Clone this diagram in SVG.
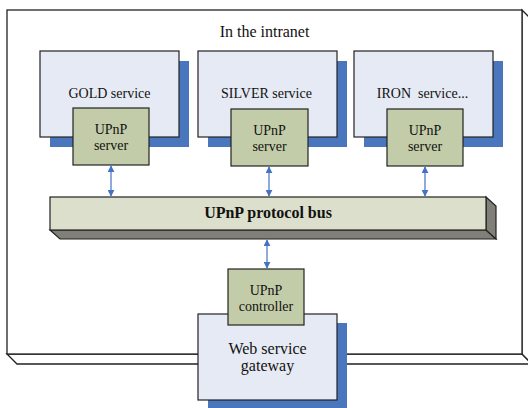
<svg xmlns="http://www.w3.org/2000/svg" width="528" height="408" viewBox="0 0 528 408" font-family="'Liberation Serif', 'DejaVu Serif', serif">
<defs>
<style>
.frame{fill:#fff;stroke:#222;stroke-width:1.3}
.shadow{fill:#4A76BE;stroke:none}
.svc{fill:#E6EAF4;stroke:#222;stroke-width:1.2}
.srv{fill:#C3CCA8;stroke:#222;stroke-width:1.2}
.busf{fill:#DCDFCB;stroke:#222;stroke-width:1.2}
.busd{fill:#808078;stroke:#222;stroke-width:1.2}
.conn{stroke:#4472C4;stroke-width:1.2;fill:none;marker-start:url(#ah);marker-end:url(#ah)}
text{fill:#111;text-anchor:middle}
.t14{font-size:14px}
.t16{font-size:16px}
.b16{font-size:16px;font-weight:bold}
</style>
<marker id="ah" viewBox="0 0 10 10" refX="9" refY="5" markerWidth="7" markerHeight="7" markerUnits="userSpaceOnUse" orient="auto-start-reverse">
<path d="M0,0 L10,5 L0,10 z" fill="#4472C4"/>
</marker>
</defs>
<g id="intranet">
<polygon class="frame" points="7,354 17,364 532,364 522,354"/>
<polygon class="frame" points="522,10 532,20 532,364 522,354"/>
<rect class="frame" x="7" y="10" width="515" height="344"/>
<text class="t16" x="264.5" y="37">In the intranet</text>
</g>
<g id="gold">
<rect class="shadow" x="50" y="61" width="139" height="86"/>
<rect class="svc" x="40" y="51" width="139" height="86"/>
<text class="t14" x="109.5" y="98">GOLD service</text>
</g>
<g id="silver">
<rect class="shadow" x="208" y="61" width="139" height="86"/>
<rect class="svc" x="198" y="51" width="139" height="86"/>
<text class="t14" x="266.5" y="98">SILVER service</text>
</g>
<g id="iron">
<rect class="shadow" x="364" y="61" width="139" height="86"/>
<rect class="svc" x="354" y="51" width="139" height="86"/>
<text class="t14" x="422.5" y="98" xml:space="preserve">IRON  service...</text>
</g>
<g id="gold-server">
<rect class="srv" x="73" y="108" width="76" height="57"/>
<text class="t14" x="111" y="134">UPnP</text>
<text class="t14" x="111" y="150">server</text>
</g>
<g id="silver-server">
<rect class="srv" x="231" y="109" width="77" height="57"/>
<text class="t14" x="269.5" y="135">UPnP</text>
<text class="t14" x="269.5" y="151">server</text>
</g>
<g id="iron-server">
<rect class="srv" x="387" y="109" width="76" height="57"/>
<text class="t14" x="425" y="135">UPnP</text>
<text class="t14" x="425" y="151">server</text>
</g>
<g id="bus">
<polygon class="busd" points="50,230 60,239 496,239 486,230"/>
<polygon class="busd" points="486,197 496,206 496,239 486,230"/>
<rect class="busf" x="50" y="197" width="436" height="33"/>
<text class="b16" x="268" y="218">UPnP protocol bus</text>
</g>
<g id="gateway">
<rect class="shadow" x="208" y="323" width="139" height="90"/>
<rect class="svc" x="198" y="314" width="139" height="86"/>
<text class="t16" x="267.5" y="354">Web service</text>
<text class="t16" x="267.5" y="371">gateway</text>
</g>
<g id="controller">
<rect class="srv" x="228" y="269" width="76" height="56"/>
<text class="t14" x="266" y="295">UPnP</text>
<text class="t14" x="266" y="311">controller</text>
</g>
<g id="connectors">
<line class="conn" x1="111" y1="166" x2="111" y2="196"/>
<line class="conn" x1="269" y1="167" x2="269" y2="196"/>
<line class="conn" x1="425" y1="167" x2="425" y2="196"/>
<line class="conn" x1="267" y1="240" x2="267" y2="268"/>
</g>
</svg>
